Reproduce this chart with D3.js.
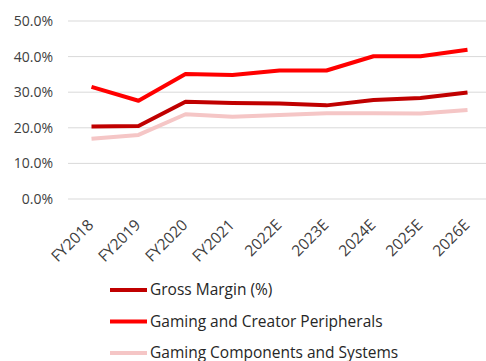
<!DOCTYPE html>
<html>
<head>
<meta charset="utf-8">
<script src="https://cdn.jsdelivr.net/npm/d3@7"></script>
<style>
  html, body { margin: 0; padding: 0; background: #fff; }
  svg { display: block; font-family: "Open Sans", sans-serif; }
</style>
</head>
<body>
<svg id="chart" width="486" height="361"></svg>
<script>
// Fiscal years / estimates along the x axis
const categories = ["FY2018", "FY2019", "FY2020", "FY2021", "2022E", "2023E", "2024E", "2025E", "2026E"];

// Margins (%) per series
const grossMargin = [20.4, 20.5, 27.3, 27.0, 26.8, 26.3, 27.8, 28.4, 29.9];
const peripherals = [31.5, 27.6, 35.1, 34.8, 36.1, 36.1, 40.1, 40.1, 41.9];
const components  = [16.9, 18.0, 23.8, 23.1, 23.6, 24.1, 24.1, 24.0, 25.0];

const seriesNames = ["Gross Margin (%)", "Gaming and Creator Peripherals", "Gaming Components and Systems"];
const seriesColors = ["#C00000", "#FF0000", "#F5C6C6"];
const yTicks = [0, 10, 20, 30, 40, 50];

const series = [grossMargin, peripherals, components].map((values, i) => ({
  name: seriesNames[i], color: seriesColors[i], values
}));

const svg = d3.select("#chart");
const plot = { left: 68, right: 491, top: 21, bottom: 199 };

const x = d3.scaleBand().domain(categories).range([plot.left, plot.right]);
const y = d3.scaleLinear().domain([0, 50]).range([plot.bottom, plot.top]);

// Horizontal gridlines
svg.append("g")
  .selectAll("line")
  .data(yTicks)
  .join("line")
  .attr("x1", plot.left).attr("x2", 486)
  .attr("y1", d => y(d)).attr("y2", d => y(d))
  .attr("stroke", "#d9d9d9").attr("stroke-width", 1);

// Y axis labels
const yAxis = svg.append("g")
  .attr("transform", `translate(${plot.left - 15},0)`)
  .call(d3.axisLeft(y).tickValues(yTicks).tickFormat(d => d.toFixed(1) + "%").tickSize(0).tickPadding(0));
yAxis.select(".domain").remove();
yAxis.selectAll("text")
  .attr("font-family", "Open Sans, sans-serif")
  .attr("font-size", 14).attr("fill", "#404040");

// X axis labels, rotated
const xAxis = svg.append("g")
  .attr("transform", `translate(0,${plot.bottom})`)
  .call(d3.axisBottom(x).tickSize(0).tickPadding(0));
xAxis.select(".domain").remove();
xAxis.selectAll("text")
  .attr("font-family", "Open Sans, sans-serif")
  .attr("font-size", 15.5).attr("fill", "#404040")
  .attr("text-anchor", "end")
  .attr("dy", null)
  .attr("transform", "translate(3,27) rotate(-45)");

// Series lines
const line = d3.line()
  .x((d, i) => x(categories[i]) + x.bandwidth() / 2)
  .y(d => y(d));

svg.append("g")
  .selectAll("path")
  .data(series)
  .join("path")
  .attr("d", d => line(d.values))
  .attr("fill", "none")
  .attr("stroke", d => d.color)
  .attr("stroke-width", 4)
  .attr("stroke-linejoin", "round");

// Legend
const legend = svg.append("g")
  .selectAll("g")
  .data(series)
  .join("g")
  .attr("transform", (d, i) => `translate(110,${290 + i * 31.5})`);
legend.append("line")
  .attr("x1", 0).attr("x2", 37)
  .attr("stroke", d => d.color).attr("stroke-width", 4);
legend.append("text")
  .attr("x", 40).attr("dy", "0.35em")
  .attr("font-family", "Open Sans, sans-serif")
  .attr("font-size", 15.5).attr("fill", "#262626")
  .text(d => d.name);
</script>
</body>
</html>
